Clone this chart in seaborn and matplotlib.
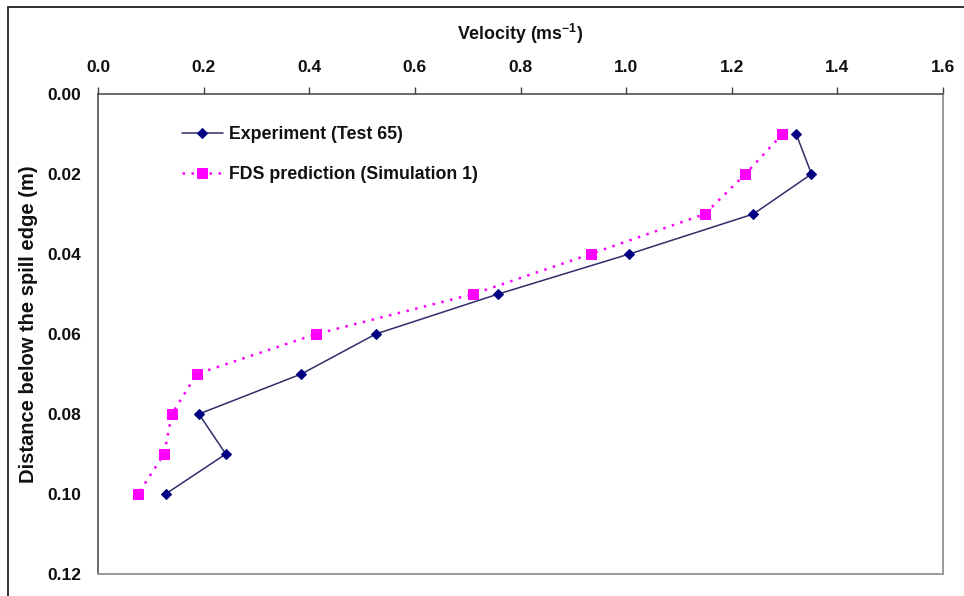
import matplotlib
matplotlib.use("Agg")
import matplotlib.pyplot as plt
from matplotlib.patches import Rectangle
import seaborn as sns
import pandas as pd

# ---- data ----
distance = [0.01, 0.02, 0.03, 0.04, 0.05, 0.06, 0.07, 0.08, 0.09, 0.10]
exp_velocity = [1.322, 1.351, 1.241, 1.006, 0.758, 0.526, 0.385, 0.191, 0.242, 0.128]
fds_velocity = [1.296, 1.226, 1.149, 0.933, 0.711, 0.413, 0.187, 0.140, 0.125, 0.076]
exp_label = "Experiment (Test 65)"
fds_label = "FDS prediction (Simulation 1)"
x_ticks = [0.0, 0.2, 0.4, 0.6, 0.8, 1.0, 1.2, 1.4, 1.6]
y_ticks = [0.00, 0.02, 0.04, 0.06, 0.08, 0.10, 0.12]

sns.set_theme(style="white")
plt.rcParams["font.family"] = ["Liberation Sans", "DejaVu Sans"]
plt.rcParams["font.weight"] = "bold"
plt.rcParams["mathtext.fontset"] = "custom"
plt.rcParams["mathtext.rm"] = "Liberation Sans:bold"
plt.rcParams["mathtext.bf"] = "Liberation Sans:bold"
plt.rcParams["mathtext.default"] = "bf"

W, H = 964, 596
fig = plt.figure(figsize=(W / 100, H / 100), dpi=100)
ax = fig.add_axes([98 / W, 1 - 574 / H, (943 - 98) / W, (574 - 94) / H])

df_exp = pd.DataFrame({"v": exp_velocity, "d": distance})
df_fds = pd.DataFrame({"v": fds_velocity, "d": distance})

sns.lineplot(data=df_exp, x="v", y="d", sort=False, estimator=None, ax=ax,
             color="#2e2e6a", lw=1.1, marker="D", markersize=5.5,
             markerfacecolor="#000080", markeredgecolor="#000080",
             label=exp_label)
sns.lineplot(data=df_fds, x="v", y="d", sort=False, estimator=None, ax=ax,
             color="#ff00ff", lw=1.8, linestyle=(0, (1, 2.6)), marker="s",
             markersize=6.5, markerfacecolor="#ff00ff",
             markeredgecolor="#ff00ff", label=fds_label)

ax.set_xlim(0, 1.6)
ax.set_ylim(0.12, 0.0)
ax.set_xticks(x_ticks)
ax.set_yticks(y_ticks)
ax.set_xticklabels([f"{t:.1f}" for t in x_ticks])
ax.set_yticklabels([f"{t:.2f}" for t in y_ticks])

ax.xaxis.tick_top()
ax.xaxis.set_label_position("top")
ax.tick_params(axis="x", which="major", direction="out", length=5, width=1,
               color="#404040", pad=9, labelsize=12.5, labelcolor="#111111",
               top=True, bottom=False)
ax.tick_params(axis="y", which="major", direction="out", length=5, width=1,
               color="#404040", pad=7, labelsize=12.5, labelcolor="#111111")
for lbl in ax.get_xticklabels() + ax.get_yticklabels():
    lbl.set_fontweight("bold")

ax.set_xlabel(r"Velocity (ms$^{-1}$)", fontsize=12.8, fontweight="bold",
              color="#111111", labelpad=14)
ax.set_ylabel("Distance below the spill edge (m)", fontsize=14.5,
              fontweight="bold", color="#111111")
ax.yaxis.set_label_coords((38 - 98) / 845, (574 - 324) / 480)

for side in ["left", "top"]:
    ax.spines[side].set_color("#505050")
    ax.spines[side].set_linewidth(1.2)
for side in ["right", "bottom"]:
    ax.spines[side].set_color("#9a9a9a")
    ax.spines[side].set_linewidth(1.4)

leg = ax.legend(loc="upper left", bbox_to_anchor=(182 / W, 1 - 126 / H),
                bbox_transform=fig.transFigure, frameon=False, borderpad=0,
                borderaxespad=0, handlelength=2.3, handletextpad=0.35,
                labelspacing=1.3, prop={"size": 12.8, "weight": "bold"})
for t in leg.get_texts():
    t.set_color("#111111")

fig.patches.append(Rectangle((8 / W, -0.1), 1.2, (1 - 7 / H) + 0.1,
                             transform=fig.transFigure, fill=False,
                             edgecolor="#222222", linewidth=1.3))

fig.savefig("out.png", dpi=100)
